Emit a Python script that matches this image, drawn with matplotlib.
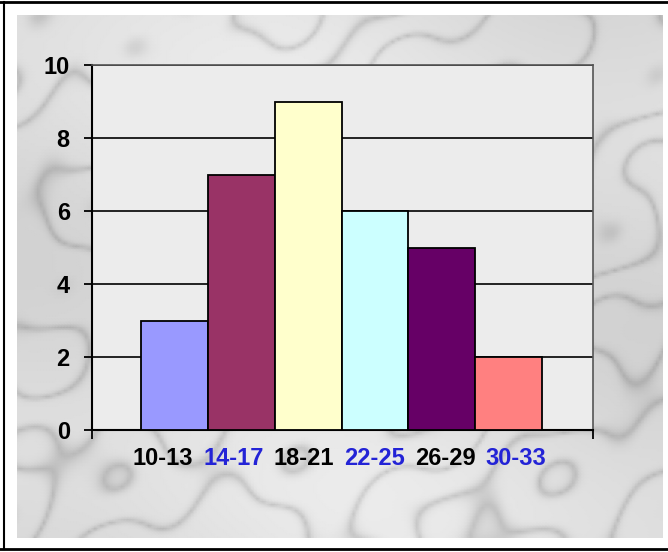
import numpy as np
import matplotlib
matplotlib.use("Agg")
import matplotlib.pyplot as plt
from matplotlib.lines import Line2D

# data
categories = ["10-13", "14-17", "18-21", "22-25", "26-29", "30-33"]
counts = [3, 7, 9, 6, 5, 2]
bar_colors = ["#9999FF", "#993366", "#FFFFCC", "#CCFFFF", "#660066", "#FF8080"]
label_colors = ["black", "#2323d6", "black", "#2323d6", "black", "#2323d6"]
y_ticks = [0, 2, 4, 6, 8, 10]

W, H = 668, 552
fig = plt.figure(figsize=(W / 100, H / 100), dpi=100)
fig.patch.set_facecolor("white")


def marble(nx, ny, step=3):
    # deterministic soft marble-like texture for the chart background
    yy, xx = np.mgrid[0:ny:step, 0:nx:step].astype(float)
    turb = (np.sin(xx * 0.017 + yy * 0.011) * 1.0
            + np.sin(xx * 0.037 - yy * 0.029 + 1.3) * 0.6
            + np.sin(xx * 0.009 + yy * 0.043 + 2.1) * 0.8
            + np.sin(xx * 0.08 + yy * 0.06) * 0.2)
    veins = np.abs(np.sin(xx * 0.01 + yy * 0.014 + 1.7 * turb))
    clouds = np.sin(xx * 0.006 - yy * 0.009 + 0.7) * np.sin(yy * 0.007 + xx * 0.004)
    val = 0.87 + 0.05 * clouds - 0.15 * (1 - veins) ** 4
    return xx, yy, np.clip(val, 0, 1)


# marble background
bg = fig.add_axes([17 / W, 1 - 538 / H, (663 - 17) / W, (538 - 15) / H])
mx, my, mv = marble(646, 523)
bg.pcolormesh(mx, my, mv, cmap="gray", vmin=0, vmax=1, shading="gouraud")
bg.set_xlim(mx.min(), mx.max())
bg.set_ylim(my.max(), my.min())
bg.set_axis_off()

# outer frame lines
fig.add_artist(Line2D([0, 1], [1 - 2 / H, 1 - 2 / H], transform=fig.transFigure, color="black", lw=2, zorder=10))
fig.add_artist(Line2D([0, 1], [1 - 549 / H, 1 - 549 / H], transform=fig.transFigure, color="black", lw=2, zorder=10))
fig.add_artist(Line2D([3.5 / W, 3.5 / W], [1 - 549 / H, 1 - 2 / H], transform=fig.transFigure, color="black", lw=1.5, zorder=10))

# plot area
ax = fig.add_axes([92 / W, 1 - 430 / H, (593 - 92) / W, (430 - 65) / H])
ax.set_facecolor("#ececec")

x = np.arange(len(categories))
ax.bar(x, counts, width=1.0, color=bar_colors, edgecolor="black", linewidth=1.3, zorder=3)

ax.set_ylim(0, 10)
ax.set_xlim(-0.5 - 49 / 67, len(categories) - 0.5 + 51 / 67)
ax.set_yticks(y_ticks)
ax.yaxis.grid(True, color="black", linewidth=1.2, zorder=1)
ax.set_axisbelow(True)

# category labels are spread a little wider than the bars in the original
mid = (len(categories) - 1) / 2
ax.set_xticks(mid - 0.03 + (x - mid) * 1.057)
ax.set_xticklabels(categories)
ax.set_xticks(list(ax.get_xlim()), minor=True)
ax.tick_params(axis="x", which="major", length=0, pad=12)
ax.tick_params(axis="x", which="minor", length=6.5, width=1.3, direction="out", color="black")
ax.tick_params(axis="y", length=6, width=1.3, direction="out", pad=10)

for lbl, c in zip(ax.get_xticklabels(), label_colors):
    lbl.set_color(c)
    lbl.set_fontweight("bold")
    lbl.set_fontsize(17)
    lbl.set_fontfamily("Liberation Sans")
for lbl in ax.get_yticklabels():
    lbl.set_fontweight("bold")
    lbl.set_fontsize(17)
    lbl.set_fontfamily("Liberation Sans")

for side in ["left", "bottom"]:
    ax.spines[side].set_color("black")
    ax.spines[side].set_linewidth(1.5)
for side in ["top", "right"]:
    ax.spines[side].set_color("#555555")
    ax.spines[side].set_linewidth(1.2)

fig.savefig("out.png", dpi=100)
